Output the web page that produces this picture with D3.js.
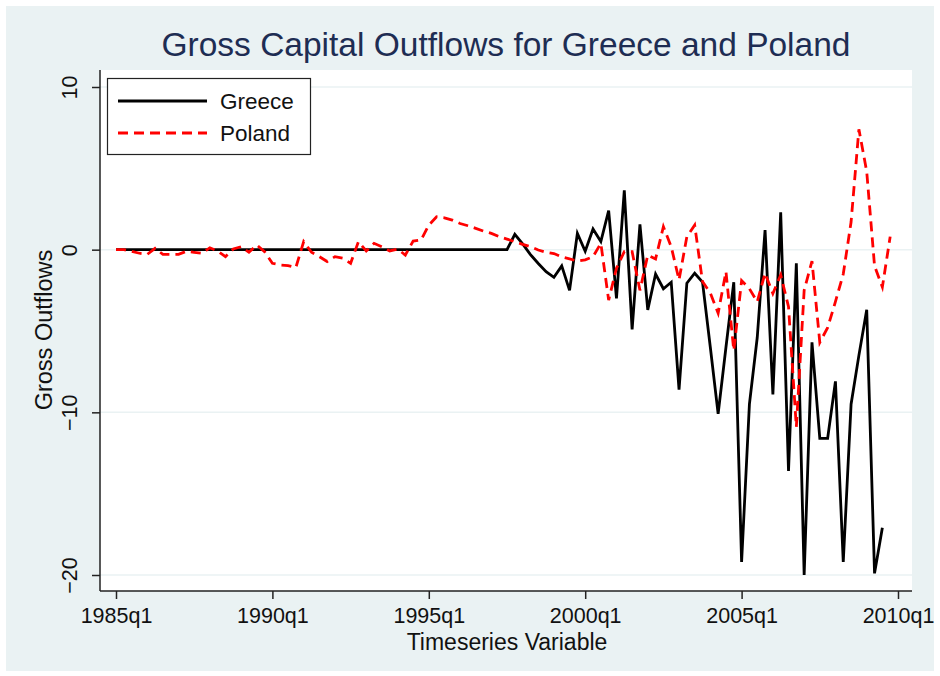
<!DOCTYPE html>
<html>
<head>
<meta charset="utf-8">
<script src="https://cdn.jsdelivr.net/npm/d3@7"></script>
<style>
  html, body { margin: 0; padding: 0; background: #fff; }
  svg text { font-family: "Liberation Sans", Arial, sans-serif; }
</style>
</head>
<body>
<div id="chart"></div>
<script>
// quarter index 0 = 1985q1
const tickQuarters = [0, 20, 40, 60, 80, 100];
const tickLabels = ["1985q1", "1990q1", "1995q1", "2000q1", "2005q1", "2010q1"];
const yTicks = [-20, -10, 0, 10];

// Greece, 1985q1 .. 2009q3
const greece = [
  0, 0, 0, 0, 0, 0, 0, 0, 0, 0,
  0, 0, 0, 0, 0, 0, 0, 0, 0, 0,
  0, 0, 0, 0, 0, 0, 0, 0, 0, 0,
  0, 0, 0, 0, 0, 0, 0, 0, 0, 0,
  0, 0, 0, 0, 0, 0, 0, 0, 0, 0,
  0, 0.94, 0.35, -0.3, -0.85, -1.35, -1.7, -1.0, -2.5, 1.0,
  -0.1, 1.27, 0.5, 2.4, -3.0, 3.65, -4.9, 1.55, -3.7, -1.5,
  -2.4, -2.0, -8.6, -2.06, -1.45, -2.0, -6.0, -10.1, -6.0, -2.0,
  -19.2, -9.5, -5.4, 1.2, -8.9, 2.3, -13.6, -0.84, -20.0, -5.7,
  -11.6, -11.6, -8.1, -19.2, -9.5, -6.5, -3.7, -19.9, -17.1
];

// Poland, 1985q1 .. 2009q4
const poland = [
  0, 0, -0.1, -0.22, -0.29, 0.08, -0.29, -0.29, -0.29, -0.1,
  -0.16, -0.22, 0.12, -0.08, -0.43, 0.04, 0.18, -0.16, 0.29, -0.12,
  -0.84, -0.94, -0.98, -1.1, 0.49, -0.16, -0.43, -0.73, -0.43, -0.53,
  -0.84, 0.49, -0.08, 0.39, 0.18, -0.08, 0.04, -0.33, 0.53, 0.59,
  1.51, 2.02, 1.96, 1.82, 1.61, 1.47, 1.31, 1.14, 1.0, 0.8,
  0.65, 0.49, 0.33, 0.18, -0.02, -0.16, -0.24, -0.45, -0.57, -0.7,
  -0.63, -0.43, 0.39, -3.1, -1.14, -0.12, -0.12, -2.5, -0.33, -0.57,
  1.41, 0.18, -1.86, 0.8, 1.51, -1.96, -2.67, -3.9, -1.35, -6.2,
  -1.9, -2.4, -3.2, -1.45, -2.7, -1.55, -3.5, -10.9, -2.5, -0.7,
  -5.7, -4.8, -3.2, -1.5, 1.7, 7.4, 4.8, -1.0, -2.3, 0.8
];

const width = 940, height = 676;
const bgColor = "#eaf2f3";

const svg = d3.select("#chart").append("svg")
    .attr("width", width)
    .attr("height", height);

// outer background
svg.append("rect")
    .attr("x", 6).attr("y", 6)
    .attr("width", 928).attr("height", 665)
    .attr("fill", bgColor);

// plot region
const plot = { left: 100, right: 912, top: 70, bottom: 591 };
svg.append("rect")
    .attr("x", plot.left).attr("y", plot.top)
    .attr("width", plot.right - plot.left)
    .attr("height", plot.bottom - plot.top)
    .attr("fill", "#fff");

const x = d3.scaleLinear().domain([0, 100]).range([116, 898]);
const y = d3.scaleLinear().domain([-20, 10]).range([575, 87]);

// gridlines
svg.append("g")
    .selectAll("line")
    .data(yTicks)
    .enter().append("line")
    .attr("x1", plot.left).attr("x2", plot.right)
    .attr("y1", d => y(d)).attr("y2", d => y(d))
    .attr("stroke", bgColor)
    .attr("stroke-width", 1.5);

// axes
const xAxis = d3.axisBottom(x)
    .tickValues(tickQuarters)
    .tickFormat((d, i) => tickLabels[i])
    .tickSize(8)
    .tickPadding(10);

const gx = svg.append("g")
    .attr("transform", `translate(0,${plot.bottom})`)
    .call(xAxis);
gx.select(".domain").remove();
gx.selectAll("line").attr("stroke", "#222").attr("stroke-width", 1.5);
gx.selectAll("text")
    .attr("font-size", 21.5)
    .attr("fill", "#111")
    .attr("dy", "0.72em")
    .attr("y", 17);

svg.append("line")
    .attr("x1", plot.left).attr("x2", plot.right)
    .attr("y1", plot.bottom).attr("y2", plot.bottom)
    .attr("stroke", "#222").attr("stroke-width", 1.5);

const yAxis = d3.axisLeft(y)
    .tickValues(yTicks)
    .tickSize(8);

const gy = svg.append("g")
    .attr("transform", `translate(${plot.left},0)`)
    .call(yAxis);
gy.select(".domain").remove();
gy.selectAll("line").attr("stroke", "#222").attr("stroke-width", 1.5);
gy.selectAll("text")
    .attr("font-size", 21.5)
    .attr("fill", "#111")
    .attr("x", 0).attr("dy", 0)
    .attr("text-anchor", "middle")
    .attr("transform", "translate(-23,0) rotate(-90)");

svg.append("line")
    .attr("x1", plot.left).attr("x2", plot.left)
    .attr("y1", plot.top).attr("y2", plot.bottom)
    .attr("stroke", "#222").attr("stroke-width", 1.5);

// series lines
const line = d3.line()
    .x((d, i) => x(i))
    .y(d => y(d));

svg.append("path")
    .datum(greece)
    .attr("d", line)
    .attr("fill", "none")
    .attr("stroke", "#000")
    .attr("stroke-width", 2.8)
    .attr("stroke-linejoin", "miter");

svg.append("path")
    .datum(poland)
    .attr("d", line)
    .attr("fill", "none")
    .attr("stroke", "#ff0000")
    .attr("stroke-width", 2.8)
    .attr("stroke-dasharray", "10,6");

// title
svg.append("text")
    .attr("x", 506).attr("y", 56)
    .attr("text-anchor", "middle")
    .attr("font-size", 33.5)
    .attr("fill", "#1e2d53")
    .text("Gross Capital Outflows for Greece and Poland");

// axis titles
svg.append("text")
    .attr("x", 507).attr("y", 650)
    .attr("text-anchor", "middle")
    .attr("font-size", 23)
    .attr("fill", "#111")
    .text("Timeseries Variable");

svg.append("text")
    .attr("transform", "translate(52,330) rotate(-90)")
    .attr("text-anchor", "middle")
    .attr("font-size", 23.5)
    .attr("fill", "#111")
    .text("Gross Outflows");

// legend
const legend = svg.append("g");
legend.append("rect")
    .attr("x", 107.5).attr("y", 78.5)
    .attr("width", 203).attr("height", 76)
    .attr("fill", "#fff")
    .attr("stroke", "#222")
    .attr("stroke-width", 1.2);

const legendItems = [
  { name: "Greece", color: "#000", dash: null },
  { name: "Poland", color: "#ff0000", dash: "10,6" }
];

legendItems.forEach((d, i) => {
  const ly = 101 + i * 32;
  legend.append("line")
      .attr("x1", 118).attr("x2", 207)
      .attr("y1", ly).attr("y2", ly)
      .attr("stroke", d.color)
      .attr("stroke-width", 2.8)
      .attr("stroke-dasharray", d.dash);
  legend.append("text")
      .attr("x", 220).attr("y", ly + 8)
      .attr("font-size", 22.5)
      .attr("fill", "#111")
      .text(d.name);
});
</script>
</body>
</html>
